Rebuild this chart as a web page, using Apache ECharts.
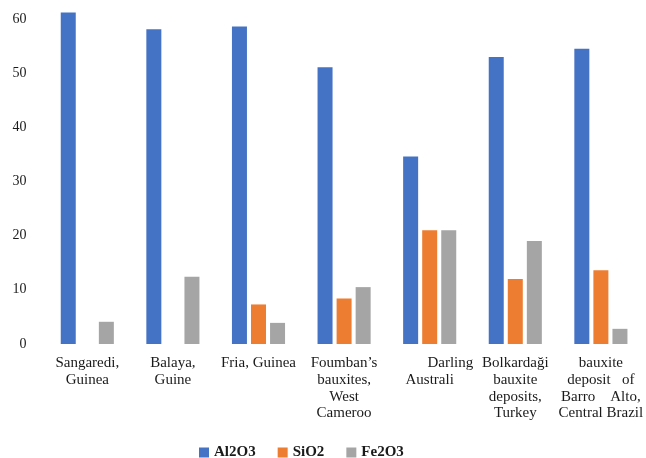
<!DOCTYPE html>
<html>
<head>
<meta charset="utf-8">
<style>
  html, body { margin: 0; padding: 0; background: #fff; }
  #chart { width: 646px; height: 458px; }
</style>
<script src="https://cdn.jsdelivr.net/npm/echarts@6/dist/echarts.min.js"></script>
</head>
<body>
<div id="chart"></div>
<script>
// Bauxite deposits and their main oxide contents (wt %)
const categories = [
  'Sangaredi,\nGuinea',
  'Balaya,\nGuine',
  'Fria, Guinea',
  'Foumban\u2019s\nbauxites,\nWest\nCameroo',
  '\u00a0\u00a0\u00a0\u00a0\u00a0\u00a0\u00a0\u00a0\u00a0\u00a0\u00a0Darling\nAustrali',
  'Bolkarda\u011fi\nbauxite\ndeposits,\nTurkey',
  'bauxite\ndeposit\u00a0\u00a0\u00a0of\nBarro\u00a0\u00a0\u00a0\u00a0Alto,\nCentral Brazil'
];
const seriesNames = ['Al2O3', 'SiO2', 'Fe2O3'];
const al2o3 = [61.2, 58.1, 58.6, 51.1, 34.6, 53.0, 54.5];
const sio2 = [null, null, 7.3, 8.4, 21.0, 12.0, 13.6];
const fe2o3 = [4.1, 12.4, 3.9, 10.5, 21.0, 19.0, 2.8];
const colors = ['#4472C4', '#ED7D31', '#A5A5A5'];

const serif = '"Liberation Serif", "Times New Roman", serif';
const chart = echarts.init(document.getElementById('chart'), null, { renderer: 'canvas' });

const values = [al2o3, sio2, fe2o3];
chart.setOption({
  animation: false,
  color: colors,
  grid: { left: 44.5, right: 0, top: 0, bottom: 114, containLabel: false },
  legend: {
    data: seriesNames,
    left: 194,
    top: 440,
    itemWidth: 10,
    itemHeight: 10,
    itemGap: 22,
    icon: 'rect',
    textStyle: { fontFamily: serif, fontSize: 15, fontWeight: 'bold', color: '#1a1a1a' }
  },
  xAxis: {
    type: 'category',
    data: categories,
    axisLine: { show: false },
    axisTick: { show: false },
    splitLine: { show: false },
    axisLabel: {
      interval: 0,
      margin: 11,
      fontFamily: serif,
      fontSize: 15,
      lineHeight: 16.7,
      color: '#1a1a1a',
      align: 'center'
    }
  },
  yAxis: {
    type: 'value',
    min: 0,
    max: 63.5,
    interval: 10,
    axisLine: { show: false },
    axisTick: { show: false },
    splitLine: { show: false },
    axisLabel: {
      margin: 18,
      fontFamily: serif,
      fontSize: 14,
      color: '#1a1a1a',
      showMaxLabel: false,
      formatter: v => (v % 10 === 0 ? String(v) : '')
    }
  },
  series: seriesNames.map((name, i) => ({
    name: name,
    type: 'bar',
    data: values[i],
    barWidth: 15,
    barGap: '27%',
    itemStyle: { color: colors[i] }
  }))
});
</script>
</body>
</html>
